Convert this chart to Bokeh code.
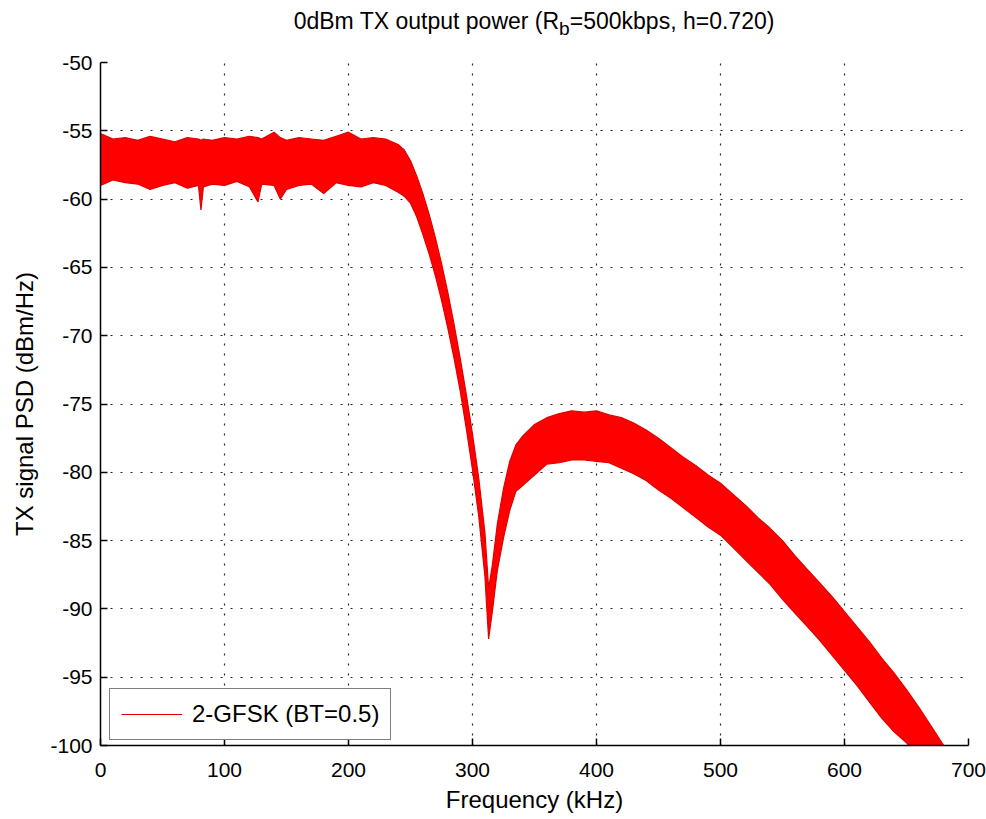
from bokeh.plotting import figure
from bokeh.models import Range1d, FixedTicker, Legend, LegendItem, ColumnDataSource, Div
from bokeh.layouts import column
from bokeh.embed import file_html
from bokeh.resources import INLINE

# ---- data (PSD band: upper / lower envelope) ----
freq_khz = [0, 10, 20, 30, 40, 50, 60, 70, 79, 81, 83, 90, 100, 110, 120, 127, 130,
            140, 145, 150, 160, 170, 180, 190, 200, 210, 220, 230, 240,
            245, 250, 255, 260, 265, 270, 275, 280, 285, 290, 295, 300, 305, 310,
            313, 316, 320, 325, 330, 335, 340, 350, 360, 370, 380, 390, 400, 410,
            420, 430, 440, 450, 460, 470, 480, 490, 500, 510, 520, 530, 540, 550,
            560, 570, 580, 590, 600, 610, 620, 630, 640, 650, 660, 670, 680, 690]
psd_upper = [-55.2, -55.6, -55.5, -55.7, -55.4, -55.6, -55.8, -55.5, -55.6, -55.7, -55.6, -55.7, -55.5, -55.6, -55.4, -55.5, -55.6,
             -55.1, -55.5, -55.7, -55.5, -55.6, -55.7, -55.4, -55.1, -55.6, -55.5, -55.6, -56.0,
             -56.4, -57.2, -58.3, -59.6, -61.1, -62.8, -64.7, -66.8, -69.1, -71.6, -74.3, -77.2, -80.4, -84.4,
             -88.5, -86.8, -83.8, -81.2, -79.2, -78.0, -77.4, -76.5, -76.0, -75.7, -75.5, -75.6, -75.5, -75.8,
             -76.0, -76.4, -76.9, -77.5, -78.2, -78.9, -79.5, -80.2, -80.8, -81.6, -82.4, -83.3, -84.1, -85.0,
             -86.1, -87.1, -88.1, -89.1, -90.2, -91.3, -92.4, -93.6, -94.7, -95.9, -97.2, -98.6, -100.0, -101.4]
psd_lower = [-59.0, -58.6, -58.8, -58.9, -59.3, -59.0, -58.8, -59.2, -59.0, -60.8, -59.1, -58.9, -59.0, -58.7, -59.1, -60.2, -58.9,
             -59.0, -60.0, -59.3, -59.0, -58.9, -59.6, -58.8, -59.0, -59.1, -58.8, -59.0, -59.5,
             -59.8, -60.3, -61.3, -62.6, -64.0, -65.6, -67.4, -69.4, -71.6, -74.0, -76.8, -79.8, -83.2, -87.6,
             -92.2, -90.2, -87.2, -84.8, -82.8, -81.4, -81.0, -80.2, -79.4, -79.3, -79.1, -79.1, -79.2, -79.3,
             -79.7, -80.1, -80.6, -81.3, -81.9, -82.6, -83.3, -84.0, -84.6, -85.5, -86.4, -87.3, -88.2, -89.3,
             -90.3, -91.3, -92.3, -93.4, -94.5, -95.6, -96.8, -98.0, -99.0, -99.8, -101.0, -102.2, -103.4, -104.6]

x_ticks = [0, 100, 200, 300, 400, 500, 600, 700]
y_ticks = [-100, -95, -90, -85, -80, -75, -70, -65, -60, -55, -50]

title_html = "0dBm TX output power (R<sub>b</sub>=500kbps, h=0.720)"
x_label = "Frequency (kHz)"
y_label = "TX signal PSD (dBm/Hz)"
series_name = "2-GFSK (BT=0.5)"

FONT = "Liberation Sans"

title_div = Div(
    text=('<div style="display:block; box-sizing:border-box; width:868px; margin-left:100px; '
          'padding-top:7px; text-align:center; '
          'font-family:\'Liberation Sans\'; font-size:23px; line-height:28px; color:black; '
          'white-space:nowrap;">' + title_html + '</div>'),
    width=986, height=40, margin=0)

p = figure(width=986, height=779, output_backend="svg", toolbar_location=None,
           x_range=Range1d(0, 700), y_range=Range1d(-100, -50),
           min_border_left=100, min_border_right=18, min_border_top=22, min_border_bottom=74,
           margin=0)
p.outline_line_color = None
p.background_fill_color = "white"
p.border_fill_color = "white"

src = ColumnDataSource(dict(f=freq_khz, up=psd_upper, lo=psd_lower))
p.varea(x="f", y1="lo", y2="up", source=src, fill_color="#ff0000")
r_up = p.line(x="f", y="up", source=src, line_color="#e00000", line_width=1.2)
p.line(x="f", y="lo", source=src, line_color="#e00000", line_width=1.2)

for ax, ticks in ((p.xaxis, x_ticks), (p.yaxis, y_ticks)):
    ax.ticker = FixedTicker(ticks=ticks)
    ax.major_label_overrides = {t: str(t) for t in ticks}
    ax.axis_line_color = "black"
    ax.axis_line_width = 1.5
    ax.major_tick_in = 7
    ax.major_tick_out = 0
    ax.major_tick_line_color = "black"
    ax.major_tick_line_width = 1.5
    ax.minor_tick_line_color = None
    ax.major_label_text_font = FONT
    ax.major_label_text_font_size = "21px"
    ax.major_label_text_color = "black"
    ax.axis_label_text_font = FONT
    ax.axis_label_text_font_size = "24px"
    ax.axis_label_text_font_style = "normal"
    ax.axis_label_text_color = "black"

p.xaxis.axis_label = x_label
p.yaxis.axis_label = y_label
p.xaxis.major_label_standoff = 17
p.xaxis.axis_label_standoff = 6
p.yaxis.major_label_standoff = 8
p.yaxis.axis_label_standoff = 9

for g in (p.xgrid, p.ygrid):
    g.grid_line_color = "black"
    g.grid_line_dash = "2 8"
    g.grid_line_width = 1.2
    g.grid_line_alpha = 0.85
p.xgrid.ticker = FixedTicker(ticks=x_ticks)
p.ygrid.ticker = FixedTicker(ticks=y_ticks)

legend = Legend(items=[LegendItem(label=series_name, renderers=[r_up])],
                location=(9, 5), margin=0, padding=11, glyph_width=61, glyph_height=24,
                label_height=24, label_standoff=10, spacing=0,
                label_text_font=FONT, label_text_font_size="24px", label_text_color="black",
                border_line_color="black", border_line_width=1.2,
                background_fill_color="white", background_fill_alpha=1.0)
p.add_layout(legend)

layout = column(title_div, p, spacing=0)
open("out.html", "w").write(file_html(layout, INLINE))
